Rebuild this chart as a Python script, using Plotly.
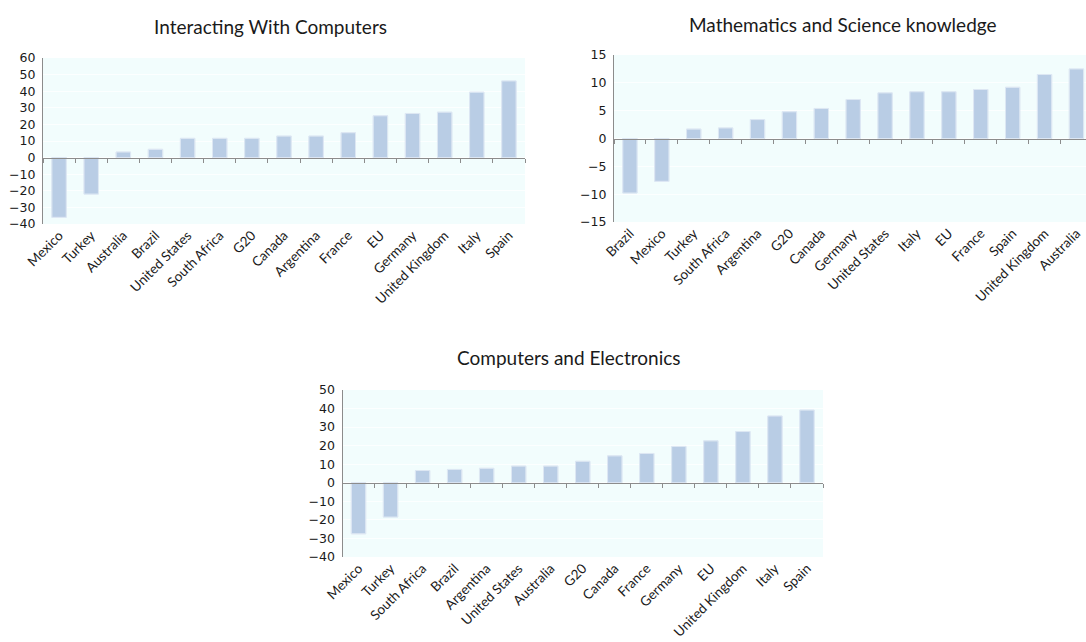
import plotly.graph_objects as go

# ---- data ----
cats1 = ["Mexico", "Turkey", "Australia", "Brazil", "United States", "South Africa", "G20",
         "Canada", "Argentina", "France", "EU", "Germany", "United Kingdom", "Italy", "Spain"]
vals1 = [-36, -22, 3.4, 5, 11.6, 11.6, 11.6, 13, 13, 15, 25.2, 26.6, 27.4, 39.4, 46.2]

cats2 = ["Brazil", "Mexico", "Turkey", "South Africa", "Argentina", "G20", "Canada", "Germany",
         "United States", "Italy", "EU", "France", "Spain", "United Kingdom", "Australia"]
vals2 = [-9.8, -7.7, 1.7, 1.9, 3.4, 4.8, 5.4, 7.0, 8.2, 8.4, 8.4, 8.8, 9.2, 11.5, 12.5]

cats3 = ["Mexico", "Turkey", "South Africa", "Brazil", "Argentina", "United States", "Australia",
         "G20", "Canada", "France", "Germany", "EU", "United Kingdom", "Italy", "Spain"]
vals3 = [-27.5, -18.5, 6.6, 7.2, 7.8, 9.0, 9.0, 11.6, 14.5, 15.8, 19.6, 22.6, 27.6, 36.0, 39.2]

titles = ["Interacting With Computers", "Mathematics and Science knowledge", "Computers and Electronics"]

# ---- layout geometry ----
W, H = 1086, 642
panels = [
    dict(cats=cats1, vals=vals1, x=(43, 525), y=(58, 224), yr=(-40, 60), dt=10, xr=None,
         title=titles[0], tx=270, ty=27),
    dict(cats=cats2, vals=vals2, x=(614, 1086), y=(55, 222), yr=(-15, 15), dt=5,
         xr=(-0.5, 14.3), title=titles[1], tx=843, ty=24),
    dict(cats=cats3, vals=vals3, x=(342.5, 823), y=(390, 557), yr=(-40, 50), dt=10, xr=None,
         title=titles[2], tx=569, ty=358),
]

BAR = "#b9cde5"
BG = "#f2fdfd"
AX = "#8c8c8c"
LABEL_FONT = dict(family="Lato, Carlito, Calibri, sans-serif", size=13.5, color="#1a1a1a")
NUM_FONT = dict(family="DejaVu Sans, Verdana, sans-serif", size=12.5, color="#1a1a1a")

fig = go.Figure()
layout = dict(width=W, height=H, margin=dict(l=0, r=0, t=0, b=0, autoexpand=False),
              paper_bgcolor="white", plot_bgcolor=BG, showlegend=False,
              bargap=0.55, annotations=[])

for i, p in enumerate(panels):
    n = i + 1
    xa = "x" if n == 1 else f"x{n}"
    ya = "y" if n == 1 else f"y{n}"
    xo = f"x{n + 3}"
    xdom = [p["x"][0] / W, p["x"][1] / W]
    ydom = [1 - p["y"][1] / H, 1 - p["y"][0] / H]
    xr = p["xr"] if p["xr"] else (-0.5, len(p["cats"]) - 0.5)

    fig.add_trace(go.Bar(x=p["cats"], y=p["vals"], xaxis=xa, yaxis=ya,
                         marker=dict(color=BAR, line=dict(color="#d6e2f0", width=1)),
                         hoverinfo="x+y"))
    # invisible trace driving the zero-line axis with boundary ticks
    fig.add_trace(go.Bar(x=p["cats"], y=p["vals"], xaxis=xo, yaxis=ya,
                         marker=dict(color="rgba(0,0,0,0)"), hoverinfo="skip"))

    zero_pos = ydom[0] + (0 - p["yr"][0]) / (p["yr"][1] - p["yr"][0]) * (ydom[1] - ydom[0])

    layout[("xaxis" if n == 1 else f"xaxis{n}")] = dict(
        domain=xdom, anchor=ya, type="category", categoryorder="array", categoryarray=p["cats"],
        range=list(xr), showline=False, ticks="", showgrid=False, tickangle=-45,
        tickfont=LABEL_FONT, fixedrange=True, automargin=False)
    layout[f"xaxis{n + 3}"] = dict(
        overlaying=xa, anchor="free", position=zero_pos, type="category",
        categoryorder="array", categoryarray=p["cats"], range=list(xr),
        showline=True, linecolor=AX, linewidth=1.3, ticks="outside", tickson="boundaries",
        ticklen=4, tickcolor=AX, showticklabels=False, showgrid=False, fixedrange=True,
        automargin=False)
    layout[("yaxis" if n == 1 else f"yaxis{n}")] = dict(
        domain=ydom, anchor=xa, range=list(p["yr"]), dtick=p["dt"], tick0=0,
        showline=True, linecolor=AX, linewidth=1.3, ticks="", showgrid=True,
        gridcolor="#fcffff", gridwidth=1, zeroline=False, tickfont=NUM_FONT,
        ticklabelstandoff=4, fixedrange=True, automargin=False)
    layout["annotations"].append(dict(
        text=p["title"], x=p["tx"] / W, y=1 - p["ty"] / H, xref="paper", yref="paper",
        xanchor="center", yanchor="middle", showarrow=False,
        font=dict(family="Lato, Carlito, Calibri, sans-serif", size=19, color="#1a1a1a")))

fig.update_layout(**layout)
fig.write_html("out.html", config={"displayModeBar": False},
               post_script="document.body.style.margin='0';document.body.style.overflow='hidden';")
